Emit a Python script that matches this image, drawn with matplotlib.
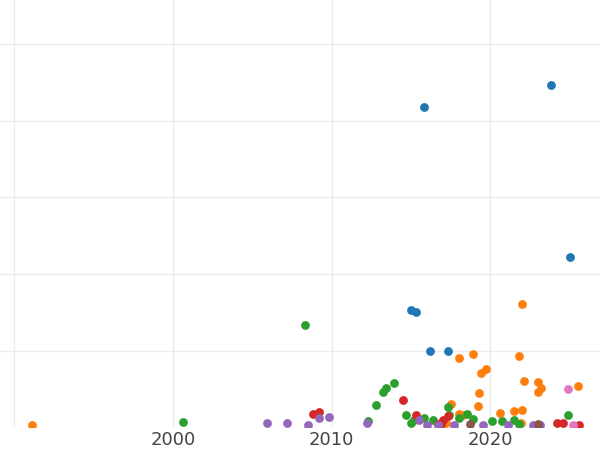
import matplotlib
matplotlib.use('Agg')
import matplotlib.pyplot as plt

blue_x = [2015.8, 2023.8, 2025.0, 2015.0, 2015.3, 2016.2, 2017.3]
blue_y = [4.18, 4.47, 2.22, 1.53, 1.50, 0.99, 0.99]
orange_x = [1991.1, 2022.0, 2018.0, 2018.9, 2019.4, 2019.7, 2021.8, 2019.3, 2019.2, 2017.5, 2022.1,
            2023.0, 2023.2, 2023.0, 2025.5, 2018.0, 2020.6, 2021.5, 2022.0, 2021.9, 2017.2, 2018.3]
orange_y = [0.03, 1.61, 0.90, 0.95, 0.71, 0.76, 0.93, 0.44, 0.27, 0.30, 0.60,
            0.59, 0.51, 0.46, 0.54, 0.17, 0.18, 0.21, 0.22, 0.05, 0.05, 0.16]
green_x = [2000.6, 2008.3, 2013.2, 2013.4, 2013.9, 2012.8, 2012.3, 2014.7, 2015.2, 2015.8, 2016.4,
           2017.3, 2017.4, 2018.5, 2018.0, 2018.9, 2020.1, 2020.7, 2021.5, 2021.8, 2024.9, 2015.0]
green_y = [0.07, 1.33, 0.46, 0.51, 0.58, 0.29, 0.08, 0.16, 0.09, 0.12, 0.09,
           0.26, 0.16, 0.17, 0.12, 0.10, 0.08, 0.08, 0.09, 0.04, 0.16, 0.05]
red_x = [2008.8, 2009.2, 2014.5, 2015.3, 2017.3, 2017.0, 2016.9, 2024.2, 2024.6, 2025.6, 2016.7]
red_y = [0.17, 0.20, 0.35, 0.16, 0.14, 0.09, 0.04, 0.05, 0.05, 0.03, 0.04]
purple_x = [2005.9, 2007.2, 2008.5, 2009.2, 2009.8, 2012.2, 2015.5, 2016.0, 2016.7, 2017.7,
            2019.5, 2021.1, 2022.7, 2023.1]
purple_y = [0.05, 0.05, 0.03, 0.12, 0.13, 0.05, 0.09, 0.03, 0.03, 0.03, 0.03, 0.03, 0.03, 0.03]
brown_x = [2018.7, 2023.0]
brown_y = [0.04, 0.04]
pink_x = [2024.9, 2025.2]
pink_y = [0.50, 0.03]

series = [
    (blue_x, blue_y, '#1f77b4'),
    (orange_x, orange_y, '#ff7f0e'),
    (green_x, green_y, '#2ca02c'),
    (red_x, red_y, '#d62728'),
    (purple_x, purple_y, '#9467bd'),
    (brown_x, brown_y, '#8c564b'),
    (pink_x, pink_y, '#e377c2'),
]

fig = plt.figure(figsize=(6, 4.5), dpi=100)
ax = fig.add_axes([0, 0.051, 1, 0.949])
for xs, ys, c in series:
    ax.scatter(xs, ys, s=40, color=c, linewidths=0, zorder=3)

ax.set_xlim(1989.1, 2026.9)
ax.set_ylim(0, 5.58)
ax.set_xticks([1990, 2000, 2010, 2020])
ax.set_xticklabels(['', '2000', '2010', '2020'])
ax.set_yticks([1, 2, 3, 4, 5])
ax.set_yticklabels([])
ax.grid(True, color='#ebebeb', linewidth=1)
ax.set_axisbelow(True)
for s in ax.spines.values():
    s.set_visible(False)
ax.tick_params(length=0, labelsize=13, labelcolor='#444444', pad=3)

fig.savefig('out.png')
